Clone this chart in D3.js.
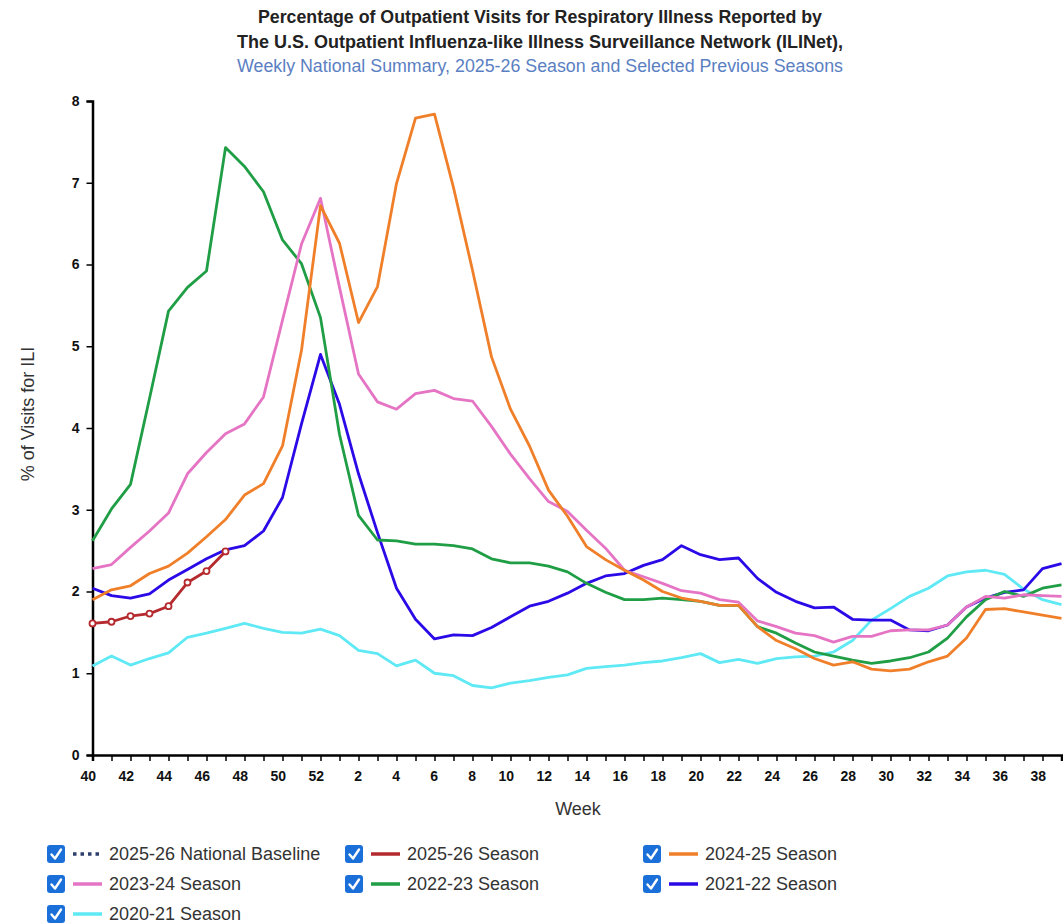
<!DOCTYPE html>
<html>
<head>
<meta charset="utf-8">
<script src="https://cdn.jsdelivr.net/npm/d3@7"></script>
<style>
  body { margin: 0; background: #fff; font-family: "Liberation Sans", Arial, sans-serif; }
</style>
</head>
<body>
<script>
// Semanas de la temporada (eje X): 40..52, 1..39
const weeks = [40,41,42,43,44,45,46,47,48,49,50,51,52,
  1,2,3,4,5,6,7,8,9,10,11,12,13,14,15,16,17,18,19,20,21,22,23,24,25,26,
  27,28,29,30,31,32,33,34,35,36,37,38,39];
const yTicks = [0,1,2,3,4,5,6,7,8];

const s2526 = [1.61,1.63,1.70,1.73,1.82,2.11,2.25,2.49];
const s2425 = [1.90,2.02,2.07,2.22,2.31,2.47,2.67,2.88,3.18,3.32,3.78,4.95,6.72,6.26,5.29,5.73,6.99,7.79,7.84,6.94,5.93,4.87,4.23,3.78,3.24,2.92,2.55,2.39,2.26,2.14,2.00,1.92,1.88,1.83,1.83,1.57,1.40,1.30,1.18,1.10,1.14,1.05,1.03,1.05,1.14,1.21,1.43,1.78,1.79,1.75,1.71,1.67];
const s2324 = [2.28,2.33,2.54,2.74,2.96,3.44,3.70,3.93,4.05,4.38,5.32,6.25,6.81,5.72,4.66,4.32,4.23,4.42,4.46,4.36,4.33,4.02,3.68,3.38,3.10,2.98,2.75,2.53,2.26,2.18,2.10,2.01,1.98,1.90,1.87,1.64,1.57,1.49,1.46,1.38,1.45,1.45,1.52,1.53,1.53,1.59,1.81,1.94,1.92,1.96,1.95,1.94];
const s2223 = [2.62,3.01,3.31,4.36,5.43,5.72,5.92,7.43,7.20,6.89,6.30,6.01,5.35,3.92,2.93,2.63,2.62,2.58,2.58,2.56,2.52,2.40,2.35,2.35,2.31,2.24,2.10,1.99,1.90,1.90,1.92,1.90,1.88,1.83,1.83,1.57,1.49,1.37,1.26,1.21,1.16,1.12,1.15,1.19,1.26,1.43,1.69,1.90,2.00,1.94,2.04,2.08];
const s2122 = [2.04,1.95,1.92,1.97,2.14,2.27,2.40,2.51,2.56,2.74,3.15,4.05,4.90,4.29,3.44,2.72,2.04,1.66,1.42,1.47,1.46,1.56,1.69,1.82,1.88,1.98,2.10,2.19,2.22,2.32,2.39,2.56,2.45,2.39,2.41,2.16,1.99,1.88,1.80,1.81,1.66,1.65,1.65,1.53,1.52,1.59,1.81,1.92,1.99,2.02,2.28,2.34];
const s2021 = [1.09,1.21,1.10,1.18,1.25,1.44,1.49,1.55,1.61,1.55,1.50,1.49,1.54,1.46,1.28,1.24,1.09,1.16,1.00,0.97,0.85,0.82,0.88,0.91,0.95,0.98,1.06,1.08,1.10,1.13,1.15,1.19,1.24,1.13,1.17,1.12,1.18,1.20,1.21,1.26,1.40,1.65,1.79,1.94,2.04,2.19,2.24,2.26,2.21,2.03,1.90,1.84];

const seasons = [
  {name: "2020-21 Season", values: s2021, color: "#5ee9f5"},
  {name: "2021-22 Season", values: s2122, color: "#2a0ae6"},
  {name: "2022-23 Season", values: s2223, color: "#1f9e45"},
  {name: "2023-24 Season", values: s2324, color: "#e575c4"},
  {name: "2024-25 Season", values: s2425, color: "#f07f2a"},
  {name: "2025-26 Season", values: s2526, color: "#b52a2e", markers: true},
];

const legendItems = [
  {name: "2025-26 National Baseline", color: "#2e3f6e", dotted: true},
  {name: "2025-26 Season", color: "#b52a2e"},
  {name: "2024-25 Season", color: "#f07f2a"},
  {name: "2023-24 Season", color: "#e575c4"},
  {name: "2022-23 Season", color: "#1f9e45"},
  {name: "2021-22 Season", color: "#2a0ae6"},
  {name: "2020-21 Season", color: "#5ee9f5"},
];

const width = 1063, height = 923;
const x = d3.scaleLinear().domain([0, weeks.length - 1]).range([92.5, 1061.5]);
const y = d3.scaleLinear().domain([0, 8]).range([755, 101]);

const svg = d3.select("body").append("svg")
  .attr("width", width).attr("height", height)
  .style("font-family", "'Liberation Sans', Arial, sans-serif");

// ── Títulos ──
svg.append("text").attr("x", 540).attr("y", 23).attr("text-anchor", "middle")
  .attr("font-size", 17.5).attr("font-weight", "bold").attr("fill", "#222")
  .attr("textLength", 564).attr("lengthAdjust", "spacingAndGlyphs")
  .text("Percentage of Outpatient Visits for Respiratory Illness Reported by");
svg.append("text").attr("x", 540).attr("y", 48).attr("text-anchor", "middle")
  .attr("font-size", 17.5).attr("font-weight", "bold").attr("fill", "#222")
  .attr("textLength", 606).attr("lengthAdjust", "spacingAndGlyphs")
  .text("The U.S. Outpatient Influenza-like Illness Surveillance Network (ILINet),");
svg.append("text").attr("x", 540).attr("y", 72).attr("text-anchor", "middle")
  .attr("font-size", 17.5).attr("fill", "#5a80c2")
  .attr("textLength", 606).attr("lengthAdjust", "spacingAndGlyphs")
  .text("Weekly National Summary, 2025-26 Season and Selected Previous Seasons");

// ── Ejes ──
const xAxis = svg.append("g").attr("transform", `translate(0,${y(0)})`)
  .call(d3.axisBottom(x).tickValues(d3.range(weeks.length)).tickSize(6).tickFormat(""));
xAxis.select(".domain").attr("stroke", "#000").attr("stroke-width", 2.5);
xAxis.selectAll(".tick line").attr("stroke", "#000").attr("stroke-width", 1.5);
xAxis.selectAll(".tick").filter(i => weeks[i] % 2 === 0).append("text")
  .attr("x", 3).attr("y", 26).attr("text-anchor", "end")
  .attr("fill", "#111").attr("font-size", 14).attr("font-weight", "bold")
  .text(i => weeks[i]);

const yAxis = svg.append("g").attr("transform", `translate(${x(0)},0)`)
  .call(d3.axisLeft(y).tickValues(yTicks).tickSize(6).tickFormat(d3.format("d")));
yAxis.select(".domain").attr("stroke", "#000").attr("stroke-width", 2.5);
yAxis.selectAll(".tick line").attr("stroke", "#000").attr("stroke-width", 1.5);
yAxis.selectAll(".tick text").attr("font-size", 14).attr("font-weight", "bold")
  .attr("fill", "#111").attr("x", -13);

svg.append("text").attr("x", 578).attr("y", 815).attr("text-anchor", "middle")
  .attr("font-size", 18).attr("fill", "#333").text("Week");
svg.append("text").attr("transform", "rotate(-90)").attr("x", -414).attr("y", 34)
  .attr("text-anchor", "middle").attr("font-size", 18).attr("fill", "#333")
  .text("% of Visits for ILI");

// ── Series ──
const line = d3.line().x((d, i) => x(i)).y(d => y(d));
seasons.forEach(s => {
  svg.append("path").datum(s.values)
    .attr("fill", "none").attr("stroke", s.color)
    .attr("stroke-width", 2.8).attr("stroke-linejoin", "round")
    .attr("d", line);
  if (s.markers) {
    svg.selectAll(null).data(s.values).join("circle")
      .attr("cx", (d, i) => x(i)).attr("cy", d => y(d)).attr("r", 3)
      .attr("fill", "#fff").attr("stroke", s.color).attr("stroke-width", 1.8);
  }
});

// ── Leyenda ──
const colX = [47, 345, 643], rowY = [854, 884, 914];
legendItems.forEach((it, k) => {
  const gx = colX[k % 3], gy = rowY[Math.floor(k / 3)];
  const g = svg.append("g").attr("transform", `translate(${gx},${gy})`);
  g.append("rect").attr("x", 0).attr("y", -9).attr("width", 18).attr("height", 18)
    .attr("rx", 3).attr("fill", "#1a6fd8");
  g.append("path").attr("d", "M4.5,0.5 L8,4.5 L14,-4.5")
    .attr("fill", "none").attr("stroke", "#fff").attr("stroke-width", 2.4)
    .attr("stroke-linecap", "round").attr("stroke-linejoin", "round");
  g.append("line").attr("x1", 26).attr("x2", 55).attr("y1", 0).attr("y2", 0)
    .attr("stroke", it.color).attr("stroke-width", 3.5)
    .attr("stroke-dasharray", it.dotted ? "3.5,4" : null);
  g.append("text").attr("x", 62).attr("y", 6).attr("font-size", 18)
    .attr("fill", "#333").text(it.name);
});
</script>
</body>
</html>
